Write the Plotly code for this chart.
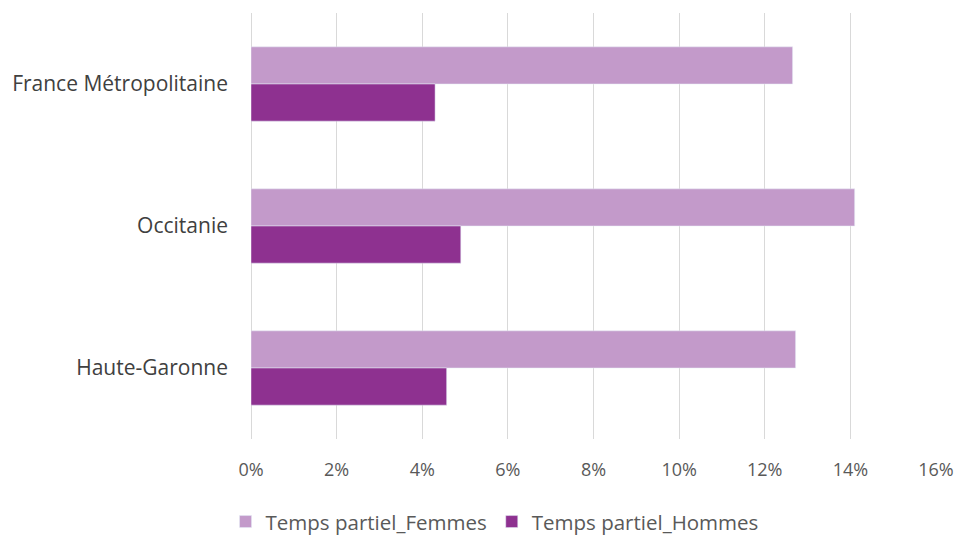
import plotly.graph_objects as go

# Part-time work share by territory and sex
territoires = ["France Métropolitaine", "Occitanie", "Haute-Garonne"]
femmes = [0.1265, 0.1410, 0.1272]
hommes = [0.0430, 0.0490, 0.0457]
x_ticks = [0, 0.02, 0.04, 0.06, 0.08, 0.10, 0.12, 0.14, 0.16]

fig = go.Figure()
fig.add_trace(go.Bar(y=territoires, x=femmes, orientation="h",
                     name="Temps partiel_Femmes", marker_color="#C39ACA"))
fig.add_trace(go.Bar(y=territoires, x=hommes, orientation="h",
                     name="Temps partiel_Hommes", marker_color="#8E3190"))

# page body has an 8px margin, so the figure is a bit smaller than the window
fig.update_layout(
    width=954, height=528,
    margin=dict(l=243, r=26, t=5, b=97),
    plot_bgcolor="white", paper_bgcolor="white",
    font=dict(family="Open Sans, sans-serif", color="#595959", size=19),
    barmode="group", bargap=0.477, bargroupgap=0,
    legend=dict(orientation="h", xref="container", yref="container",
                x=0.51, y=0.027, xanchor="center", yanchor="middle",
                font=dict(size=20.5, color="#595959"), itemwidth=30,
                traceorder="normal"),
)
fig.update_xaxes(range=[0, 0.16], tickvals=x_ticks, tickformat=".0%",
                 showgrid=True, gridcolor="#D9D9D9", gridwidth=1,
                 zeroline=True, zerolinecolor="#D9D9D9", zerolinewidth=1,
                 showline=False, ticks="", ticklabelstandoff=18,
                 tickfont=dict(size=18, color="#595959"))
fig.update_yaxes(categoryorder="array", categoryarray=territoires,
                 autorange="reversed", showgrid=False, showline=False,
                 ticks="", ticklabelstandoff=22,
                 tickfont=dict(size=21, color="#404040"))

fig.write_html("out.html")
